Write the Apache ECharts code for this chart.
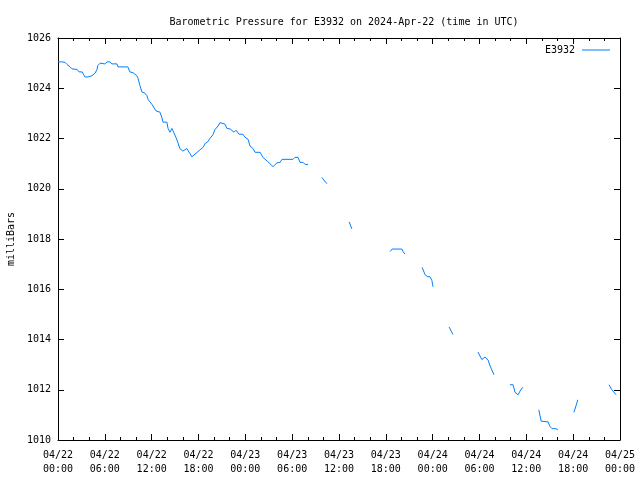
<!DOCTYPE html>
<html><head><meta charset="utf-8">
<script src="https://cdn.jsdelivr.net/npm/echarts@6/dist/echarts.min.js"></script>
<style>html,body{margin:0;padding:0;background:#fff}#c{width:640px;height:480px}</style>
</head><body><div id="c"></div>
<script>
// hours since 2024-04-22 00:00 UTC
var hours = [0,0.5,0.9,1.15,1.55,1.8,2.45,2.7,2.95,3.1,3.45,3.7,3.85,4.35,4.75,5.0,5.1,5.4,6.0,6.3,6.65,6.9,7.55,7.7,8.95,9.2,9.6,10.1,10.25,10.5,10.75,11.15,11.4,11.55,12.05,12.15,12.55,13.05,13.3,13.45,13.95,14.1,14.35,14.6,14.85,15.1,15.35,15.6,16.0,16.5,16.9,17.15,17.55,17.8,18.2,18.6,18.85,19.2,19.45,19.85,20.1,20.5,20.75,21.0,21.4,21.65,22.05,22.3,22.55,22.8,23.2,23.7,23.95,24.35,24.6,25.0,25.25,25.5,25.9,26.25,26.8,27.15,27.4,27.55,28.05,28.45,28.7,30.1,30.35,30.75,31.0,31.4,31.65,32.05,
  32.9,
  33.8,34.45,
  36.0,
  37.3,37.65,
  40.0,
  42.55,42.8,44.05,44.2,44.45,
  45.5,
  46.65,47.0,47.3,47.65,47.9,48.05,
  49.0,
  50.1,50.6,
  52.0,
  53.8,54.3,54.7,54.95,55.1,55.35,55.85,
  57.0,
  57.9,58.3,58.55,58.95,59.2,59.55,
  60.5,
  61.6,61.9,62.8,63.0,63.3,63.4,63.8,64.05,
  65.0,
  66.1,66.6,
  68.0,
  70.6,70.95,71.1,71.5];
var pressure = [1025.05,1025.05,1025.03,1024.95,1024.85,1024.77,1024.75,1024.65,1024.6,1024.65,1024.45,1024.4,1024.45,1024.5,1024.6,1024.75,1024.9,1025.0,1024.97,1025.05,1025.05,1024.97,1024.97,1024.85,1024.85,1024.65,1024.62,1024.5,1024.4,1024.1,1023.85,1023.8,1023.7,1023.55,1023.35,1023.37,1023.1,1023.05,1022.85,1022.65,1022.65,1022.4,1022.25,1022.4,1022.35,1022.05,1021.85,1021.6,1021.5,1021.6,1021.4,1021.27,1021.38,1021.38,1021.55,1021.65,1021.8,1021.87,1022.0,1022.15,1022.35,1022.5,1022.63,1022.6,1022.57,1022.4,1022.38,1022.42,1022.25,1022.33,1022.17,1022.17,1022.05,1021.97,1021.7,1021.6,1021.45,1021.4,1021.45,1021.25,1021.1,1021.0,1021.0,1020.88,1021.03,1021.05,1021.17,1021.17,1021.25,1021.25,1021.05,1021.05,1020.97,1020.97,
  null,
  1020.45,1020.2,
  null,
  1018.68,1018.4,
  null,
  1017.5,1017.6,1017.6,1017.5,1017.4,
  null,
  1016.87,1016.6,1016.5,1016.5,1016.35,1016.1,
  null,
  1014.5,1014.2,
  null,
  1013.5,1013.2,1013.3,1013.3,1013.18,1012.95,1012.6,
  null,
  1012.2,1012.2,1011.9,1011.8,1011.95,1012.1,
  null,
  1011.2,1010.75,1010.72,1010.55,1010.45,1010.5,1010.45,1010.4,
  null,
  1011.1,1011.6,
  null,
  1012.2,1012.0,1011.97,1011.8];
var xTickDates = ['04/22','04/22','04/22','04/22','04/23','04/23','04/23','04/23','04/24','04/24','04/24','04/24','04/25'];
var xTickTimes = ['00:00','06:00','12:00','18:00','00:00','06:00','12:00','18:00','00:00','06:00','12:00','18:00','00:00'];
var yTicks = [1010,1012,1014,1016,1018,1020,1022,1024,1026];

var font = 'DejaVu Sans Mono';
var data = hours.map(function(h,i){ return [h, pressure[i]===null ? '-' : pressure[i]]; });
var chart = echarts.init(document.getElementById('c'), null, {renderer:'canvas'});
function line(){ return {show:true, onZero:false, lineStyle:{color:'#000', width:1}}; }
function tick(){ return {show:true, inside:true, length:6, lineStyle:{color:'#000'}}; }
function minor(){ return {show:true, splitNumber:3, length:3, lineStyle:{color:'#000'}}; }
chart.setOption({
  animation:false,
  backgroundColor:'#fff',
  title:{text:'Barometric Pressure for E3932 on 2024-Apr-22 (time in UTC)', left:339, textAlign:'center', top:12,
    textStyle:{fontFamily:font, fontSize:10, fontWeight:'normal', color:'#000'}},
  legend:{show:true, right:30, top:45, padding:0, align:'right', icon:'rect', itemWidth:28, itemHeight:1, itemGap:0,
    textStyle:{fontFamily:font, fontSize:10, color:'#000', padding:[0,2,0,0]}, data:['E3932']},
  grid:{left:58, right:20, top:38, bottom:40, containLabel:false, outerBoundsMode:'none'},
  xAxis:[{type:'value', min:0, max:72, interval:6, position:'bottom',
    axisLine:line(), axisTick:tick(), minorTick:minor(), splitLine:{show:false}, minorSplitLine:{show:false},
    axisLabel:{fontFamily:font, fontSize:10, color:'#000', margin:8, lineHeight:14,
      formatter:function(v){ var i=Math.round(v/6); return xTickDates[i]+'\n'+xTickTimes[i]; }}},
   {type:'value', min:0, max:72, interval:6, position:'top',
    axisLine:line(), axisTick:tick(), minorTick:minor(), splitLine:{show:false}, axisLabel:{show:false}}],
  yAxis:[{type:'value', min:yTicks[0], max:yTicks[yTicks.length-1], interval:2, position:'left',
    name:'milliBars', nameLocation:'middle', nameGap:42, nameRotate:90,
    nameTextStyle:{fontFamily:font, fontSize:10, color:'#000'},
    axisLine:line(), axisTick:tick(), splitLine:{show:false},
    axisLabel:{fontFamily:font, fontSize:10, color:'#000', margin:7, formatter:function(v){ return String(v); }}},
   {type:'value', min:yTicks[0], max:yTicks[yTicks.length-1], interval:2, position:'right',
    axisLine:line(), axisTick:tick(), splitLine:{show:false}, axisLabel:{show:false}}],
  series:[{name:'E3932', type:'line', data:data, showSymbol:false, symbol:'none', connectNulls:false,
    lineStyle:{color:'#0080ff', width:1}, itemStyle:{color:'#0080ff'}}]
});
</script></body></html>
